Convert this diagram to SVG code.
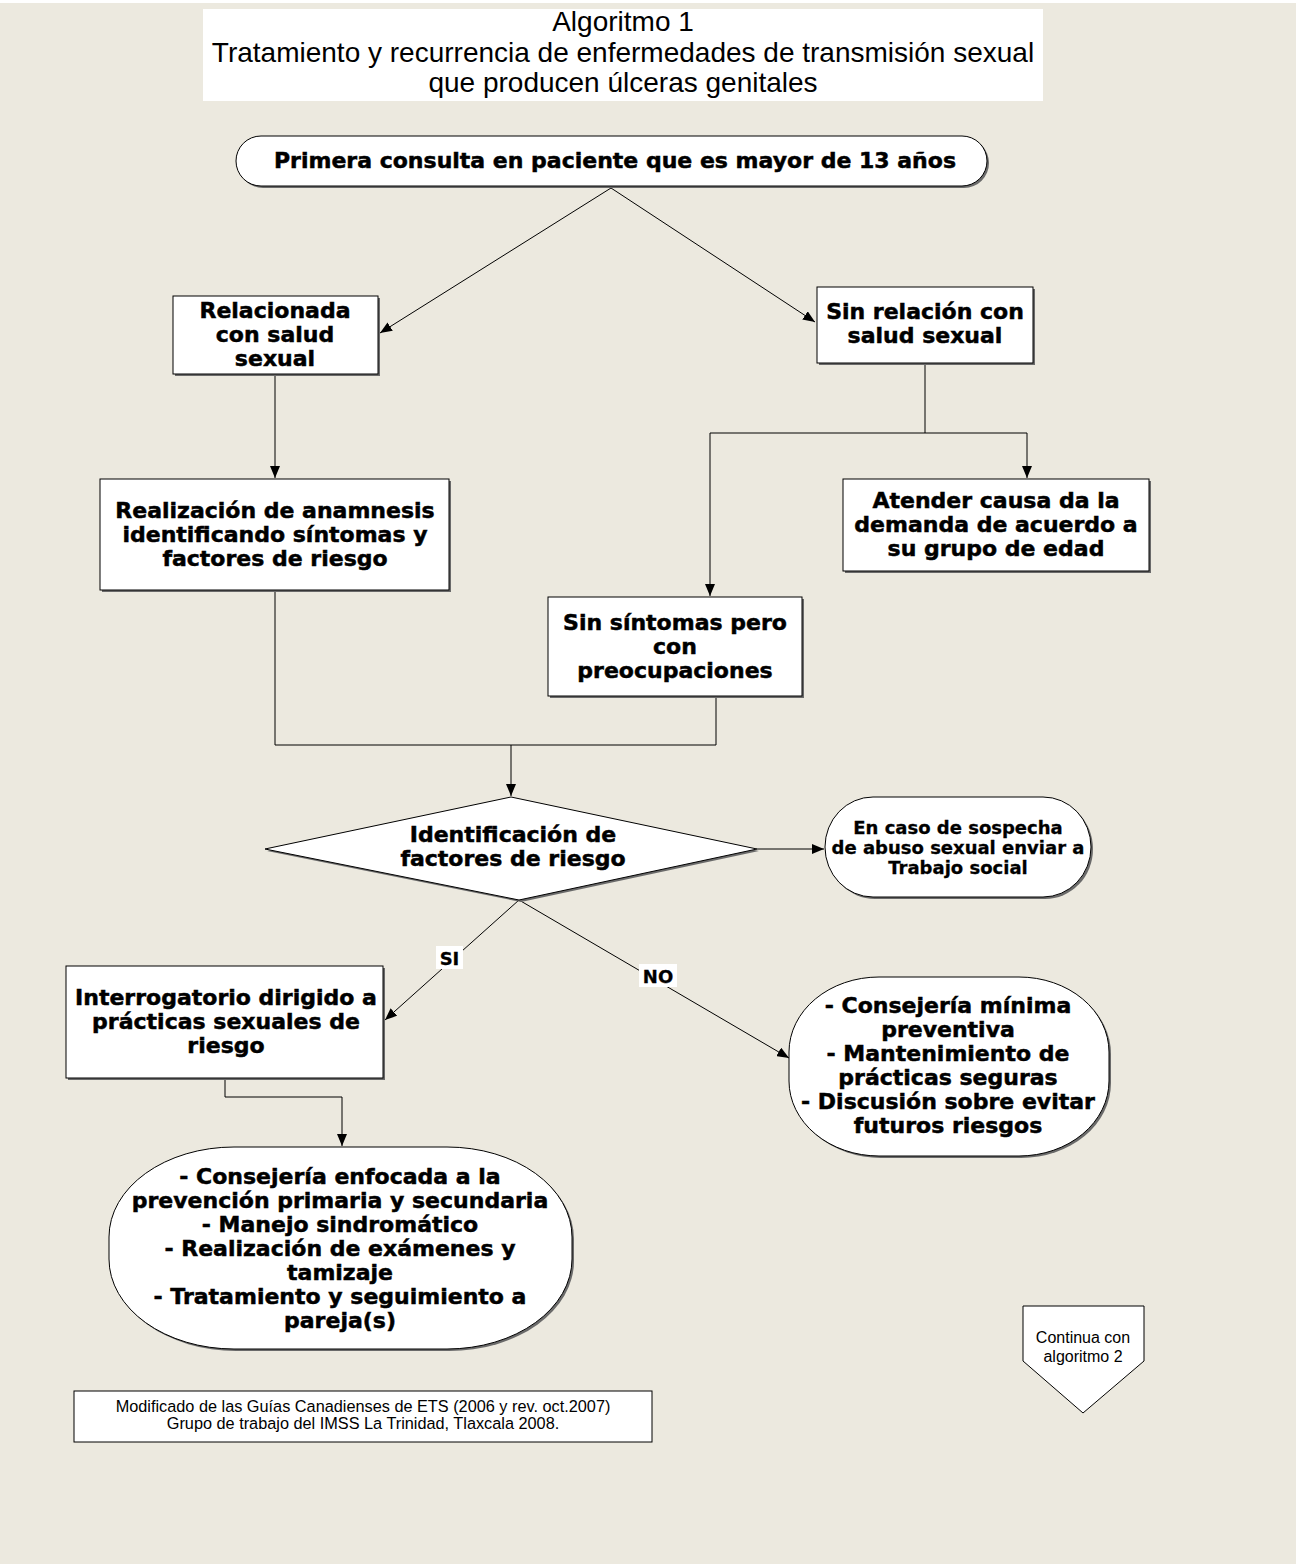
<svg xmlns="http://www.w3.org/2000/svg" width="1298" height="1564" viewBox="0 0 1298 1564">
<defs>
<marker id="arr" viewBox="0 0 12 10" refX="12" refY="5" markerWidth="12" markerHeight="10" markerUnits="userSpaceOnUse" orient="auto">
<path d="M0,0 L12,5 L0,10 Z" fill="#000"/>
</marker>
</defs>
<style>
.box{fill:#fff;stroke:#000;stroke-width:1}
.sh{fill:#6a6a6a}
.t{font-family:"DejaVu Sans",sans-serif;font-weight:bold;font-size:22px;fill:#000;stroke:#000;stroke-width:0.5;text-anchor:middle}
.ts{font-family:"DejaVu Sans",sans-serif;font-weight:bold;font-size:18px;fill:#000;stroke:#000;stroke-width:0.3;text-anchor:middle}
.tr{font-family:"Liberation Sans",Arial,sans-serif;fill:#000;text-anchor:middle}
.c{fill:none;stroke:#000;stroke-width:1}
</style>
<rect x="0" y="0" width="1298" height="1564" fill="#fff"/>
<rect x="0" y="3" width="1296" height="1561" fill="#ECE9DF"/>

<g id="title">
<rect x="203" y="9" width="840" height="92" fill="#fff"/>
<text class="tr" x="623" y="31" font-size="28">Algoritmo 1</text>
<text class="tr" x="623" y="62" font-size="28">Tratamiento y recurrencia de enfermedades de transmisión sexual</text>
<text class="tr" x="623" y="92" font-size="28">que producen úlceras genitales</text>
</g>

<g id="connectors">
<path class="c" d="M611,188 L380,333" marker-end="url(#arr)"/>
<path class="c" d="M611,188 L815,322" marker-end="url(#arr)"/>
<path class="c" d="M275,374 L275,478" marker-end="url(#arr)"/>
<path class="c" d="M925,363 L925,433"/>
<path class="c" d="M710,433 L1027,433"/>
<path class="c" d="M1027,433 L1027,478" marker-end="url(#arr)"/>
<path class="c" d="M710,433 L710,596" marker-end="url(#arr)"/>
<path class="c" d="M275,590 L275,745 L716,745 L716,697"/>
<path class="c" d="M511,745 L511,796" marker-end="url(#arr)"/>
<path class="c" d="M757,849 L824,849" marker-end="url(#arr)"/>
<path class="c" d="M519,900 L385,1020" marker-end="url(#arr)"/>
<path class="c" d="M519,900 L789,1058" marker-end="url(#arr)"/>
<path class="c" d="M225,1078 L225,1097 L342,1097 L342,1146" marker-end="url(#arr)"/>
<g id="label-si">
<rect x="436" y="946" width="27" height="23" fill="#fff"/>
<text class="ts" x="449.5" y="965">SI</text>
</g>
<g id="label-no">
<rect x="639" y="964" width="38" height="23" fill="#fff"/>
<text class="ts" x="658" y="983">NO</text>
</g>
</g>

<g id="n-primera">
<rect class="sh" x="238" y="138" width="751" height="50" rx="25"/>
<rect class="box" x="236" y="136" width="751" height="50" rx="25"/>
<text class="t" x="615" y="168">Primera consulta en paciente que es mayor de 13 años</text>
</g>

<g id="n-relacionada">
<rect class="sh" x="175" y="298" width="205" height="78"/>
<rect class="box" x="173" y="296" width="205" height="78"/>
<text class="t" x="275" y="318">Relacionada</text>
<text class="t" x="275" y="342">con salud</text>
<text class="t" x="275" y="366">sexual</text>
</g>

<g id="n-sinrelacion">
<rect class="sh" x="819" y="289" width="216" height="76"/>
<rect class="box" x="817" y="287" width="216" height="76"/>
<text class="t" x="925" y="319">Sin relación con</text>
<text class="t" x="925" y="343">salud sexual</text>
</g>

<g id="n-anamnesis">
<rect class="sh" x="102" y="481" width="349" height="111"/>
<rect class="box" x="100" y="479" width="349" height="111"/>
<text class="t" x="275" y="518">Realización de anamnesis</text>
<text class="t" x="275" y="542">identificando síntomas y</text>
<text class="t" x="275" y="566">factores de riesgo</text>
</g>

<g id="n-atender">
<rect class="sh" x="845" y="481" width="306" height="92"/>
<rect class="box" x="843" y="479" width="306" height="92"/>
<text class="t" x="996" y="508">Atender causa da la</text>
<text class="t" x="996" y="532">demanda de acuerdo a</text>
<text class="t" x="996" y="556">su grupo de edad</text>
</g>

<g id="n-sinsintomas">
<rect class="sh" x="550" y="599" width="254" height="99"/>
<rect class="box" x="548" y="597" width="254" height="99"/>
<text class="t" x="675" y="630">Sin síntomas pero</text>
<text class="t" x="675" y="654">con</text>
<text class="t" x="675" y="678">preocupaciones</text>
</g>

<g id="n-identificacion">
<polygon class="sh" points="513,799 759,851 521,902 267,851"/>
<polygon class="box" points="511,797 757,849 519,900 265,849"/>
<text class="t" x="513" y="842">Identificación de</text>
<text class="t" x="513" y="866">factores de riesgo</text>
</g>

<g id="n-abuso">
<rect class="sh" x="827" y="799" width="266" height="100" rx="48" ry="50"/>
<rect class="box" x="825" y="797" width="266" height="100" rx="48" ry="50"/>
<text class="ts" x="958" y="834">En caso de sospecha</text>
<text class="ts" x="958" y="854">de abuso sexual enviar a</text>
<text class="ts" x="958" y="874">Trabajo social</text>
</g>

<g id="n-interrogatorio">
<rect class="sh" x="68" y="968" width="317" height="112"/>
<rect class="box" x="66" y="966" width="317" height="112"/>
<text class="t" x="226" y="1005">Interrogatorio dirigido a</text>
<text class="t" x="226" y="1029">prácticas sexuales de</text>
<text class="t" x="226" y="1053">riesgo</text>
</g>

<g id="n-minima">
<rect class="sh" x="791" y="979" width="320" height="179" rx="90" ry="75"/>
<rect class="box" x="789" y="977" width="320" height="179" rx="90" ry="75"/>
<text class="t" x="948" y="1013">- Consejería mínima</text>
<text class="t" x="948" y="1037">preventiva</text>
<text class="t" x="948" y="1061">- Mantenimiento de</text>
<text class="t" x="948" y="1085">prácticas seguras</text>
<text class="t" x="948" y="1109">- Discusión sobre evitar</text>
<text class="t" x="948" y="1133">futuros riesgos</text>
</g>

<g id="n-enfocada">
<rect class="sh" x="111" y="1149" width="463" height="202" rx="125" ry="90"/>
<rect class="box" x="109" y="1147" width="463" height="202" rx="125" ry="90"/>
<text class="t" x="340" y="1184">- Consejería enfocada a la</text>
<text class="t" x="340" y="1208">prevención primaria y secundaria</text>
<text class="t" x="340" y="1232">- Manejo sindromático</text>
<text class="t" x="340" y="1256">- Realización de exámenes y</text>
<text class="t" x="340" y="1280">tamizaje</text>
<text class="t" x="340" y="1304">- Tratamiento  y seguimiento a</text>
<text class="t" x="340" y="1328">pareja(s)</text>
</g>

<g id="n-fuente">
<rect class="box" x="74" y="1391" width="578" height="51"/>
<text class="tr" x="363" y="1412" font-size="16.3">Modificado de las Guías Canadienses de ETS (2006 y rev. oct.2007)</text>
<text class="tr" x="363" y="1429" font-size="16.3">Grupo de trabajo del IMSS La Trinidad, Tlaxcala 2008.</text>
</g>

<g id="n-continua">
<polygon class="box" points="1023,1306 1144,1306 1144,1361 1083,1413 1023,1361"/>
<text class="tr" x="1083" y="1343" font-size="16">Continua con</text>
<text class="tr" x="1083" y="1362" font-size="16">algoritmo 2</text>
</g>
</svg>
